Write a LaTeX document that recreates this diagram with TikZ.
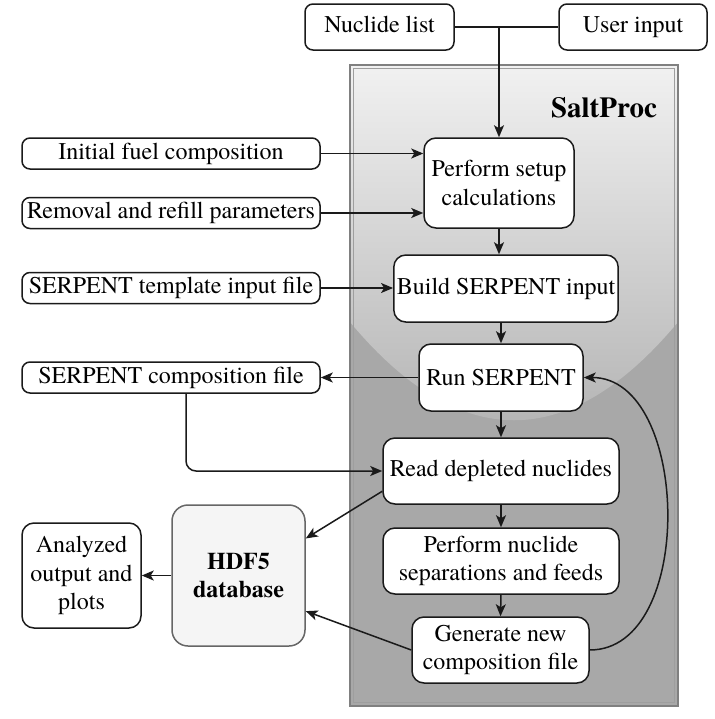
\documentclass[tikz,border=0pt]{standalone}
\usepackage{fontspec}
\setmainfont{TeX Gyre Termes}
\usepackage{tikz}
\usepackage{xcolor}
\usetikzlibrary{arrows.meta, positioning, calc}
\definecolor{linegray}{RGB}{26, 26, 26}
\definecolor{framegray}{RGB}{128, 128, 128}
\definecolor{frameinner}{RGB}{158, 158, 158}
\definecolor{glasstop}{RGB}{241, 241, 241}
\definecolor{glassbottom}{RGB}{176, 176, 176}
\definecolor{procbase}{RGB}{168, 168, 168}
\definecolor{dbfill}{RGB}{245, 245, 245}
\definecolor{dbedge}{RGB}{102, 102, 102}

\begin{document}
\begin{tikzpicture}[x=0.5pt, y=-0.5pt,
    txt/.style={font=\fontsize{12}{14.2}\selectfont},
    inbox/.style={rectangle, rounded corners=4pt, draw=linegray, fill=white, line width=0.75pt, minimum width=149pt, minimum height=15.5pt, inner sep=1.5pt, text height=8.2pt, text depth=2.6pt, align=center, txt},
    procbox/.style={rectangle, rounded corners=6pt, draw=linegray, fill=white, line width=0.75pt, minimum height=33pt, inner sep=1.5pt, align=center, txt},
    arrow/.style={-{Stealth[length=6pt, width=5pt, inset=1.5pt]}, line width=0.75pt, linegray},
    link/.style={line width=0.75pt, linegray}
]

\path[fill=white, use as bounding box] (0,0) rectangle (714,719);

% SaltProc container
\fill[procbase] (350,65) rectangle (678,706);
\shade[top color=glasstop, bottom color=glassbottom] (350,65) -- (350,322) .. controls (459,453) and (569,453) .. (678,322) -- (678,65) -- cycle;
\draw[framegray, line width=1pt] (350,65) rectangle (678,706);
\draw[frameinner, line width=0.75pt] (353.5,68.5) rectangle (674.5,702.5);
\node[font=\fontsize{14.5}{17}\selectfont\bfseries] (saltproc) at (604,108) {SaltProc};

% Input boxes
\node[inbox, minimum width=74.5pt, minimum height=23pt] (nuclides) at (379.5,27) {Nuclide list};
\node[inbox, minimum width=74pt, minimum height=23pt] (userin) at (633,27) {User input};
\node[inbox] (initfuel) at (171,153.5) {Initial fuel composition};
\node[inbox] (removal) at (171,213) {Removal and refill parameters};
\node[inbox] (template) at (171,288) {SERPENT template input file};
\node[inbox] (compfile) at (171,377.5) {SERPENT composition file};

% Process boxes
\node[procbox, minimum width=75pt, minimum height=45pt] (setup) at (499,183) {Perform setup\\calculations};
\node[procbox, minimum width=112pt, minimum height=33.5pt] (build) at (506,288.5) {Build SERPENT input};
\node[procbox, minimum width=82pt, minimum height=33.5pt] (runserp) at (501,377.5) {Run SERPENT};
\node[procbox, minimum width=118pt] (readdep) at (501,471) {Read depleted nuclides};
\node[procbox, minimum width=118pt] (separate) at (501,561) {Perform nuclide\\separations and feeds};
\node[procbox, minimum width=88.5pt] (newcomp) at (500.5,650) {Generate new\\composition file};

% Output boxes
\node[procbox, rounded corners=8pt, fill=dbfill, draw=dbedge, minimum width=66.5pt, minimum height=70.5pt, font=\fontsize{12}{14.2}\selectfont\bfseries] (hdf) at (238.5,575.5) {HDF5\\database};
\node[procbox, minimum width=59.5pt, minimum height=52.5pt] (analyzed) at (81.5,575.5) {Analyzed\\output and\\plots};

% Inputs to setup
\coordinate (join) at (nuclides.east -| setup.north);
\draw[link] (nuclides.east) -- (userin.west);
\draw[arrow] (join) -- (setup.north);
\draw[arrow] (initfuel.east) -- (initfuel.east -| setup.west);
\draw[arrow] (removal.east) -- (removal.east -| setup.west);
\draw[arrow] (template.east) -- (template.east -| build.west);

% Main flow
\draw[arrow] (setup.south) -- (setup.south |- build.north);
\draw[arrow] (runserp.north |- build.south) -- (runserp.north);
\draw[arrow] (runserp.south) -- (readdep.north);
\draw[arrow] (readdep.south) -- (separate.north);
\draw[arrow] (separate.south) -- (newcomp.north);
\draw[arrow] (runserp.west) -- (compfile.east);
\draw[arrow, rounded corners=5pt] ([xshift=7.5pt]compfile.south) |- (readdep.west);

% Database and results
\draw[arrow] ($(readdep.north west)!0.8!(readdep.south west)$) -- ($(hdf.north east)!0.24!(hdf.south east)$);
\draw[arrow] (newcomp.west) -- ($(hdf.north east)!0.75!(hdf.south east)$);
\draw[arrow] (hdf.west) -- (analyzed.east);

% Feedback loop
\draw[arrow] (newcomp.east) to[out=0, in=0, looseness=1] (runserp.east);

\end{tikzpicture}
\end{document}
